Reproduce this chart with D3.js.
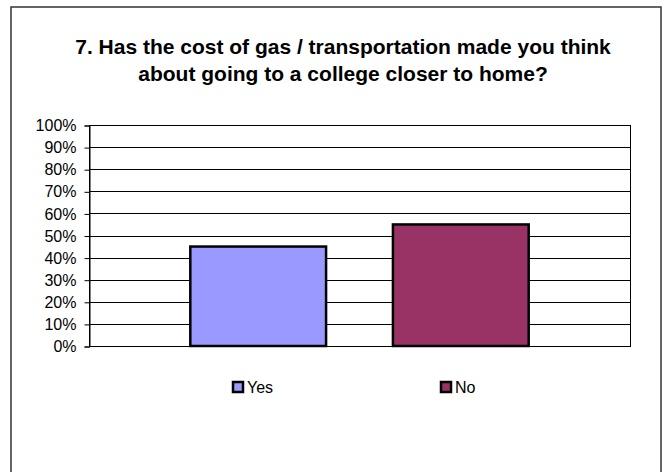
<!doctype html>
<html lang="en">
  <head>
    <meta charset="UTF-8" />
    <title>Gas cost survey</title>
    <script src="https://d3js.org/d3.v7.min.js"></script>
    <style>
      html,
      body {
        margin: 0;
        padding: 0;
        background: #fff;
        overflow: hidden;
      }
      svg {
        display: block;
        font-family: "Liberation Sans", Arial, sans-serif;
      }
    </style>
  </head>
  <body>
    <svg id="chart" width="666" height="472"></svg>
    <script>
      // chart values
      const titleLines = [
        "7. Has the cost of gas / transportation made you think",
        "about going to a college closer to home?",
      ];
      const seriesNames = ["Yes", "No"];
      const seriesValues = [0.45, 0.55];
      const seriesColors = ["#9999ff", "#993366"];
      const tickValues = [0, 0.1, 0.2, 0.3, 0.4, 0.5, 0.6, 0.7, 0.8, 0.9, 1];

      const svg = d3.select("#chart");

      // outer chart frame (bottom edge runs off the page)
      svg.append("rect")
        .attr("x", 11)
        .attr("y", 7)
        .attr("width", 650)
        .attr("height", 480)
        .attr("fill", "#fff")
        .attr("stroke", "#333")
        .attr("stroke-width", 1.5);

      // title
      svg.append("text")
        .attr("x", 343)
        .attr("y", 54)
        .attr("text-anchor", "middle")
        .style("font-size", "21px")
        .style("font-weight", "bold")
        .selectAll("tspan")
        .data(titleLines)
        .enter()
        .append("tspan")
        .attr("x", 343)
        .attr("dy", (d, i) => (i === 0 ? 0 : 27))
        .text((d) => d);

      const plot = { left: 89, right: 630, top: 125, bottom: 346 };

      const y = d3.scaleLinear().domain([0, 1]).range([plot.bottom, plot.top]);
      const x = d3.scaleBand()
        .domain(seriesNames)
        .range([plot.left, plot.right])
        .paddingInner(0.33)
        .paddingOuter(0.5);

      // gridlines
      svg.append("g")
        .selectAll("line")
        .data(tickValues)
        .enter()
        .append("line")
        .attr("x1", plot.left)
        .attr("x2", plot.right)
        .attr("y1", (d) => Math.round(y(d)) + 0.5)
        .attr("y2", (d) => Math.round(y(d)) + 0.5)
        .attr("stroke", "#000")
        .attr("stroke-width", 1);

      // plot border
      svg.append("rect")
        .attr("x", plot.left + 0.5)
        .attr("y", Math.round(y(1)) + 0.5)
        .attr("width", plot.right - plot.left)
        .attr("height", Math.round(y(0)) - Math.round(y(1)))
        .attr("fill", "none")
        .attr("stroke", "#000");

      // y axis
      const yAxis = d3.axisLeft(y)
        .tickValues(tickValues)
        .tickFormat(d3.format(".0%"))
        .tickSize(5)
        .tickPadding(8);

      const gy = svg.append("g")
        .attr("transform", `translate(${plot.left + 0.5},0.5)`)
        .call(yAxis);
      gy.select(".domain").attr("stroke", "#000");
      gy.selectAll(".tick line").attr("stroke", "#000");
      gy.selectAll(".tick text")
        .style("font-size", "16px")
        .style("font-family", '"Liberation Sans", Arial, sans-serif')
        .attr("fill", "#000");

      // bars
      svg.append("g")
        .selectAll("rect")
        .data(seriesValues)
        .enter()
        .append("rect")
        .attr("x", (d, i) => x(seriesNames[i]))
        .attr("y", (d) => y(d))
        .attr("width", x.bandwidth())
        .attr("height", (d) => y(0) - y(d))
        .attr("fill", (d, i) => seriesColors[i])
        .attr("stroke", "#000")
        .attr("stroke-width", 2.5);

      // legend
      const legendX = [232, 440];
      const legend = svg.append("g")
        .selectAll("g")
        .data(seriesNames)
        .enter()
        .append("g")
        .attr("transform", (d, i) => `translate(${legendX[i]},381)`);

      legend.append("rect")
        .attr("x", 1)
        .attr("y", 1)
        .attr("width", 10)
        .attr("height", 10)
        .attr("fill", (d, i) => seriesColors[i])
        .attr("stroke", "#000")
        .attr("stroke-width", 2.5);

      legend.append("text")
        .attr("x", 15)
        .attr("y", 12)
        .style("font-size", "16px")
        .text((d) => d);
    </script>
  </body>
</html>
